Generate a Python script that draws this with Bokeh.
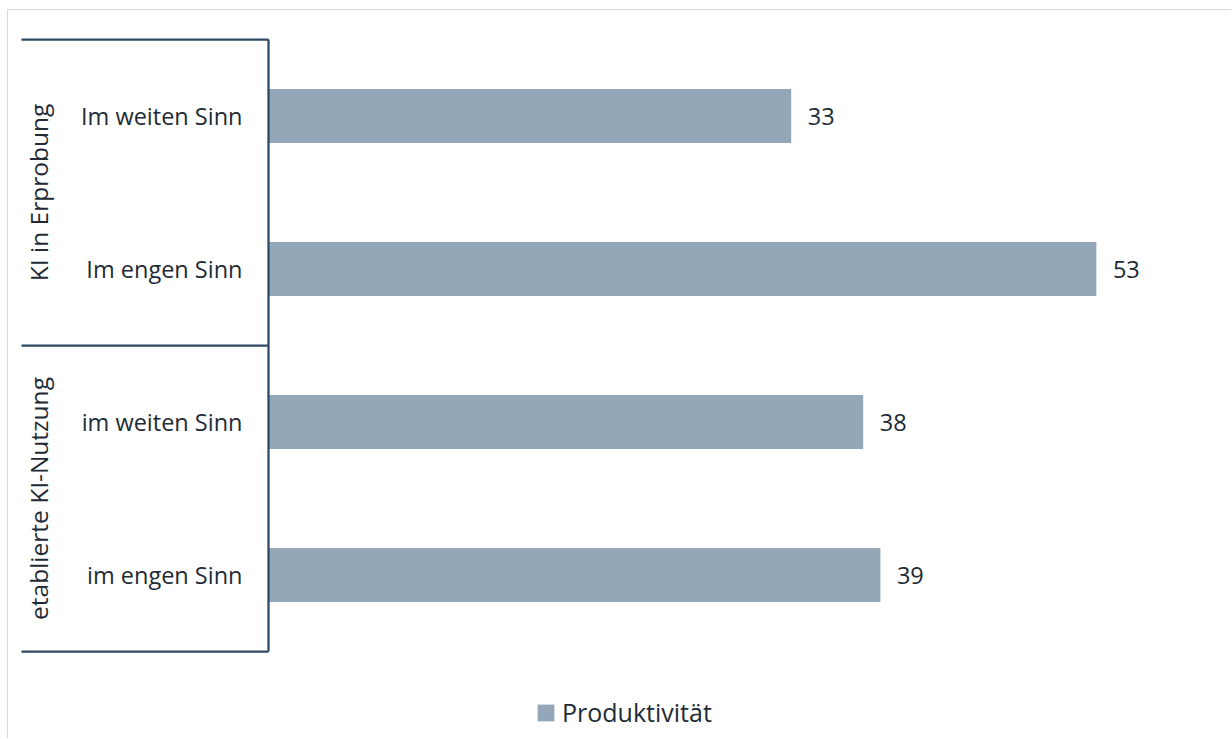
import numpy as np
from bokeh.plotting import figure
from bokeh.models import Range1d, ColumnDataSource, Legend, LegendItem
from bokeh.core.properties import value
from bokeh.embed import file_html
from bokeh.resources import INLINE

# ---- data ----
groups = ["KI in Erprobung", "etablierte KI-Nutzung"]
subcategories = ["Im weiten Sinn", "Im engen Sinn", "im weiten Sinn", "im engen Sinn"]
group_of_sub = [0, 0, 1, 1]
values = [33.4, 52.9, 38.0, 39.1]
series_name = "Produktivität"

# ---- layout constants ----
LEFT, TOP = 8, 10
W, H = 1232 - LEFT, 739 - TOP
PX = 15.65          # px per value unit
ZERO_PX = 260       # frame px of the value axis
PY = 153            # px per category
TOP_PX = 105.5      # frame px of first category centre
FRAME_W = W
FRAME_H = H

FONT = value("Open Sans")
TXT = "#222B35"
BAR = "#94A7B9"
AXC = "#2E4864"

x_start = -ZERO_PX / PX
x_end = (FRAME_W - ZERO_PX) / PX
y_top = -TOP_PX / PY
y_bottom = (FRAME_H - TOP_PX) / PY

p = figure(width=W, height=H, output_backend="svg", toolbar_location=None,
           x_range=Range1d(x_start, x_end), y_range=Range1d(y_bottom, y_top),
           x_axis_location=None, y_axis_location=None, min_border=0)
p.styles = {"margin-left": f"{LEFT - 1}px", "margin-top": f"{TOP - 1}px",
            "border-left": "1px solid #D9D9D9", "border-top": "1px solid #D9D9D9"}
p.xgrid.grid_line_color = None
p.ygrid.grid_line_color = None
p.outline_line_color = None
p.background_fill_color = "white"
p.border_fill_color = "white"

ypos = np.arange(len(subcategories))
src = ColumnDataSource(dict(y=ypos, v=values, sub=subcategories,
                            lab=[str(int(round(v))) for v in values],
                            zero=[0] * len(values)))

bars = p.hbar(y="y", left=0, right="v", height=0.353, source=src,
              fill_color=BAR, line_color=None)

# value labels
p.text(x="v", y="y", text="lab", source=src, x_offset=16.5,
       text_align="left", text_baseline="middle", text_font=FONT,
       text_font_size="23.5px", text_color=TXT)

# subcategory labels
p.text(x="zero", y="y", text="sub", source=src, x_offset=-26,
       text_align="right", text_baseline="middle", text_font=FONT,
       text_font_size="23.5px", text_color=TXT)

# group labels and separators
g_centers = []
bounds = [-0.5]
for gi, g in enumerate(groups):
    idx = [i for i, gg in enumerate(group_of_sub) if gg == gi]
    g_centers.append((min(idx) + max(idx)) / 2)
    bounds.append(max(idx) + 0.5)
p.text(x=[0] * len(groups), y=g_centers, text=groups, x_offset=-230,
       angle=np.pi / 2, text_align="center", text_baseline="middle",
       text_font=FONT, text_font_size="24.5px", text_color=TXT)

sep_x0 = -(ZERO_PX - 13) / PX
p.segment(x0=[sep_x0] * len(bounds), x1=[0] * len(bounds), y0=bounds, y1=bounds,
          line_color=AXC, line_width=2.25)
p.segment(x0=[0], x1=[0], y0=[bounds[0]], y1=[bounds[-1]],
          line_color=AXC, line_width=2.25)

legend = Legend(items=[LegendItem(label=series_name, renderers=[bars])],
                location=(527, 10), orientation="horizontal",
                glyph_width=21, glyph_height=21, label_standoff=6,
                padding=0, margin=0, border_line_color=None,
                background_fill_alpha=0,
                label_text_font="Open Sans", label_text_font_size="25px",
                label_text_color=TXT)
p.add_layout(legend)

open("out.html", "w").write(file_html(p, INLINE))
